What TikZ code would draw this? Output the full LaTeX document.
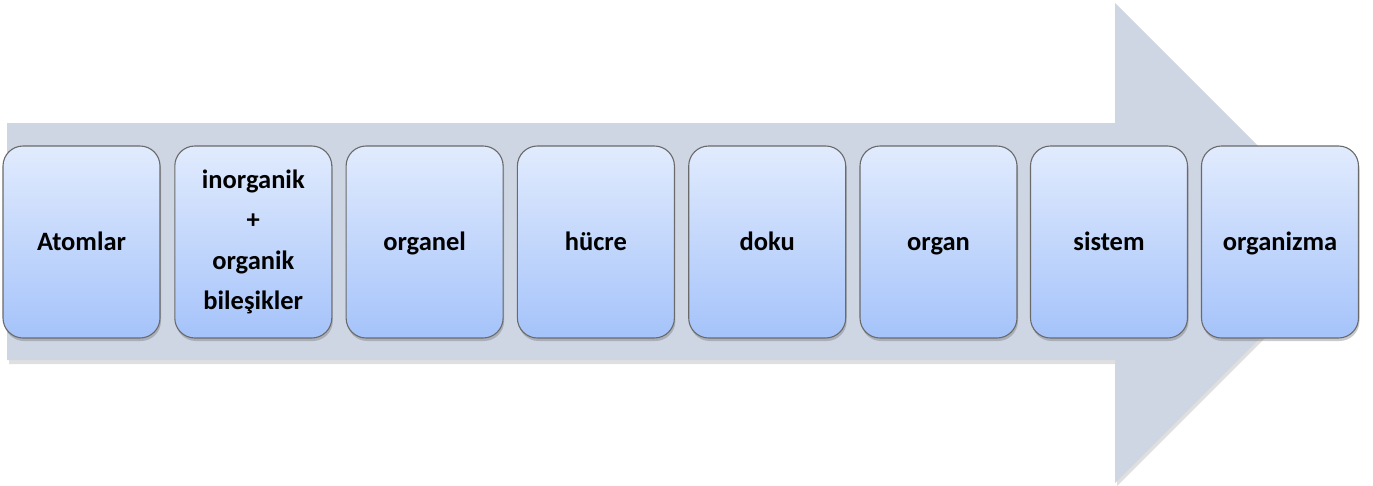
\documentclass[tikz,border=0pt]{standalone}
\usepackage{fontspec}
\setmainfont{Carlito}
\usetikzlibrary{shadows}
\definecolor{arrowfill}{HTML}{CED6E4}
\definecolor{boxtop}{HTML}{E1EBFD}
\definecolor{boxbot}{HTML}{A5C3FA}
\definecolor{boxline}{HTML}{6A6A6A}
\tikzset{
  stagebox/.style={draw=boxline, line width=1.1pt, rounded corners=20pt,
    minimum width=157pt, minimum height=192pt, inner sep=2pt,
    top color=boxtop, bottom color=boxbot, align=center,
    font=\bfseries\fontsize{26.5}{40.5}\selectfont,
    drop shadow={shadow xshift=1pt, shadow yshift=-3pt, opacity=0.35, fill=black!60}},
  oneline/.style={text height=18pt, text depth=2pt},
  bigarrow/.style={fill=arrowfill, draw=none}
}
\begin{document}
\begin{tikzpicture}[x=1pt,y=-1pt]
\useasboundingbox (0,0) rectangle (1373,485);
\fill[black!25, opacity=0.5] (9,126) -- (1117,126) -- (1117,6) -- (1357,246) -- (1117,486) -- (1117,364) -- (9,364) -- cycle;
\path[bigarrow] (7,123) -- (1115,123) -- (1115,3) -- (1355,243) -- (1115,483) -- (1115,360) -- (7,360) -- cycle;
\node[stagebox, oneline] (n1) at (81.5,242) {Atomlar};
\node[stagebox] (n2) at (253.3,242) {inorganik\\+\\organik\\bileşikler};
\node[stagebox, oneline] (n3) at (424.6,242) {organel};
\node[stagebox, oneline] (n4) at (595.9,242) {hücre};
\node[stagebox, oneline] (n5) at (767.2,242) {doku};
\node[stagebox, oneline] (n6) at (938.5,242) {organ};
\node[stagebox, oneline] (n7) at (1109.0,242) {sistem};
\node[stagebox, oneline] (n8) at (1280.0,242) {organizma};
\end{tikzpicture}
\end{document}
